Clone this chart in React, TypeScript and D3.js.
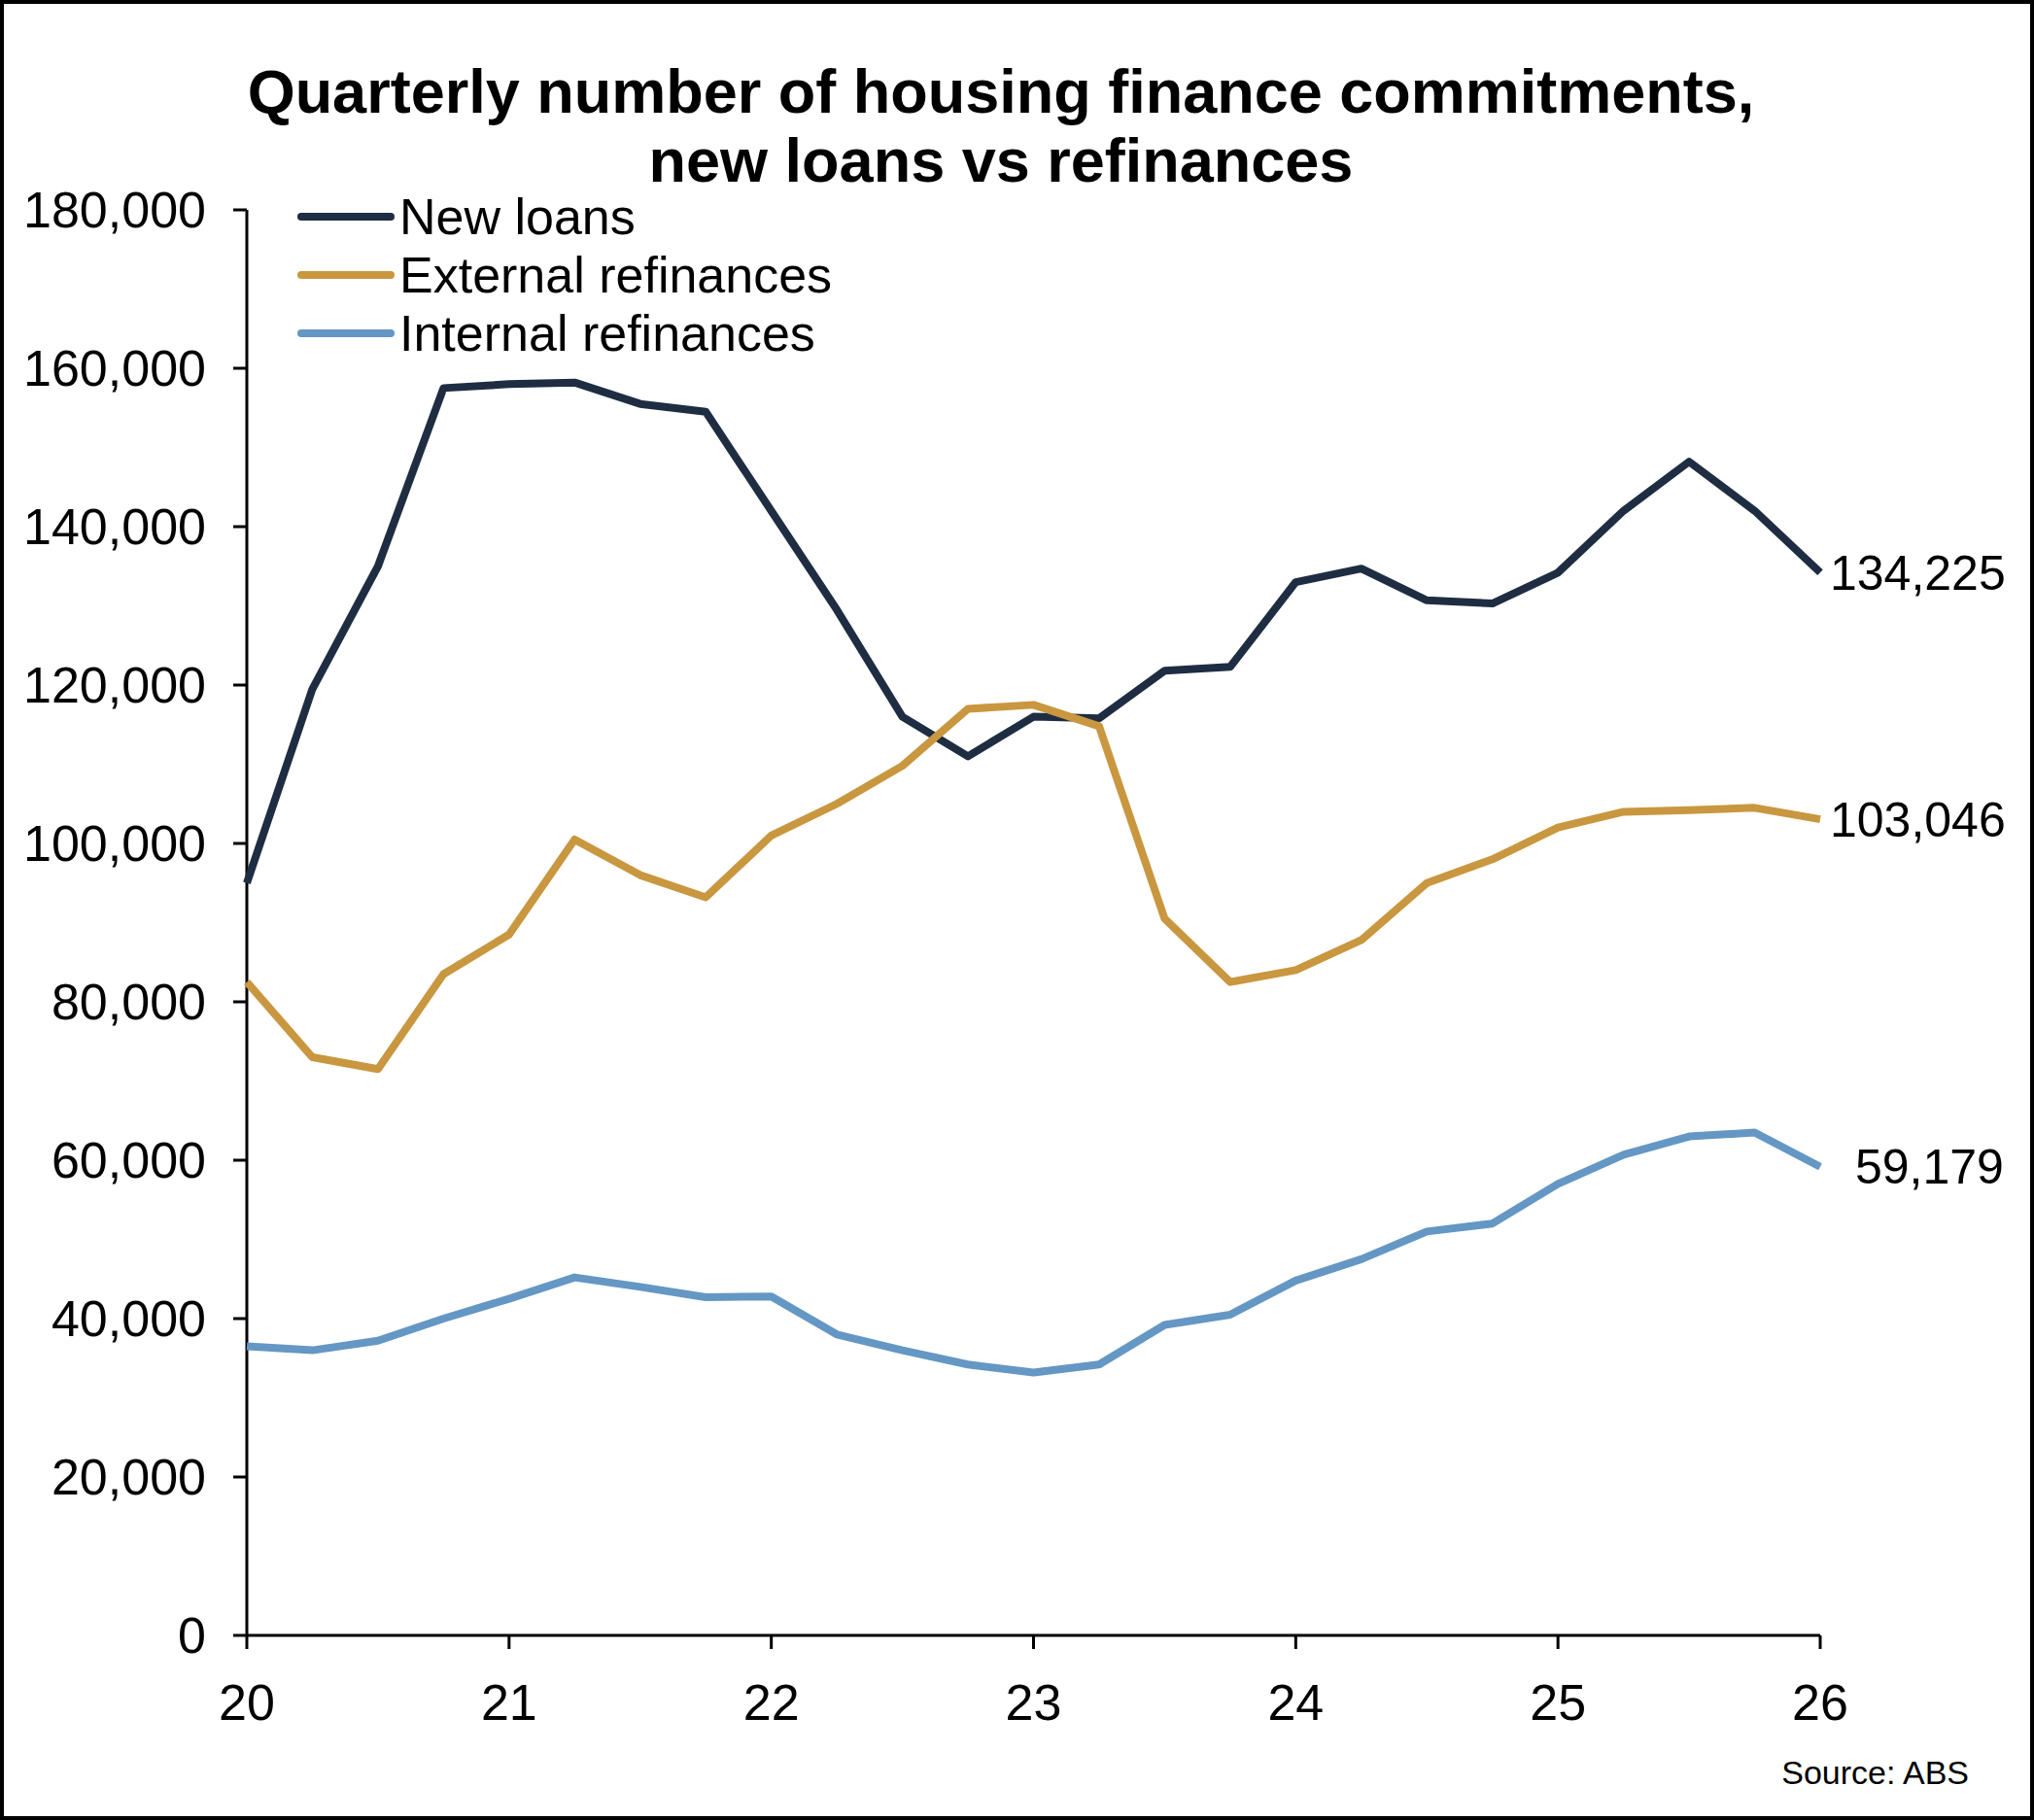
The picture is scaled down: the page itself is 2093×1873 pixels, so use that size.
import * as d3 from 'd3';

const QUARTERS = d3.range(25).map((i) => 20 + i * 0.25);
const newLoans = [95000, 119500, 135000, 157500, 158000, 158200, 155500, 154500, 142000, 129500, 116000, 111000, 116000, 115800, 121800, 122300, 133000, 134700, 130700, 130300, 134200, 142000, 148200, 142000, 134225];
const externalRefi = [82500, 73000, 71500, 83500, 88500, 100500, 96000, 93200, 101000, 105000, 109800, 117000, 117500, 114800, 90500, 82500, 84000, 87800, 95000, 98000, 102000, 104000, 104200, 104500, 103046];
const internalRefi = [36500, 36000, 37200, 40000, 42500, 45200, 44000, 42700, 42800, 38000, 36000, 34200, 33200, 34200, 39200, 40500, 44800, 47500, 51000, 52000, 57000, 60700, 63000, 63500, 59179];
const X_TICKS = [20, 21, 22, 23, 24, 25, 26];
const Y_TICKS = d3.range(0, 180001, 20000);

const SERIES = [
  { name: 'New loans', values: newLoans, color: '#1f2d42', label: '134,225', dx: 10 },
  { name: 'External refinances', values: externalRefi, color: '#c9973f', label: '103,046', dx: 10 },
  { name: 'Internal refinances', values: internalRefi, color: '#6497c4', label: '59,179', dx: 36 },
];

const W = 2093;
const H = 1873;
const FONT = '"Liberation Sans", Arial, sans-serif';

export default function App() {
  const x = d3.scaleLinear().domain([20, 26]).range([254, 1873]);
  const y = d3.scaleLinear().domain([0, 180000]).range([1683, 216]);
  const line = d3
    .line<number>()
    .x((_, i) => x(QUARTERS[i]))
    .y((d) => y(d));

  return (
    <svg width={W} height={H} style={{ position: 'absolute', left: 0, top: 0, fontFamily: FONT }}>
      <rect x={2} y={2} width={W - 4} height={H - 4} fill="#fff" stroke="#000" strokeWidth={4} />
      <text x={1030} y={116} textAnchor="middle" fontSize={63} fontWeight="bold">
        Quarterly number of housing finance commitments,
      </text>
      <text x={1030} y={187} textAnchor="middle" fontSize={63} fontWeight="bold">
        new loans vs refinances
      </text>

      {Y_TICKS.map((t) => (
        <g key={t}>
          <line x1={240} x2={254} y1={y(t)} y2={y(t)} stroke="#000" strokeWidth={3} />
          <text x={212} y={y(t)} dy="0.35em" textAnchor="end" fontSize={52}>
            {d3.format(',')(t)}
          </text>
        </g>
      ))}
      {X_TICKS.map((t) => (
        <g key={t}>
          <line x1={x(t)} x2={x(t)} y1={1683} y2={1697} stroke="#000" strokeWidth={3} />
          <text x={x(t)} y={1770} textAnchor="middle" fontSize={52}>
            {t}
          </text>
        </g>
      ))}
      <line x1={254} x2={254} y1={216} y2={1683} stroke="#000" strokeWidth={3} />
      <line x1={254} x2={1873} y1={1683} y2={1683} stroke="#000" strokeWidth={3} />

      {SERIES.map((s) => (
        <path key={s.name} d={line(s.values) ?? ''} fill="none" stroke={s.color} strokeWidth={8} strokeLinejoin="round" />
      ))}
      {SERIES.map((s) => (
        <text
          key={s.name + 'l'}
          x={x(26) + s.dx}
          y={y(s.values[s.values.length - 1])}
          dy="0.35em"
          fontSize={50}
        >
          {s.label}
        </text>
      ))}

      {SERIES.map((s, i) => (
        <g key={s.name + 'g'} transform={`translate(310,${223 + i * 60})`}>
          <line x1={0} x2={92} stroke={s.color} strokeWidth={8} strokeLinecap="round" />
          <text x={101} dy="0.35em" fontSize={52}>
            {s.name}
          </text>
        </g>
      ))}

      <text x={2026} y={1836} textAnchor="end" fontSize={34}>
        Source: ABS
      </text>
    </svg>
  );
}
